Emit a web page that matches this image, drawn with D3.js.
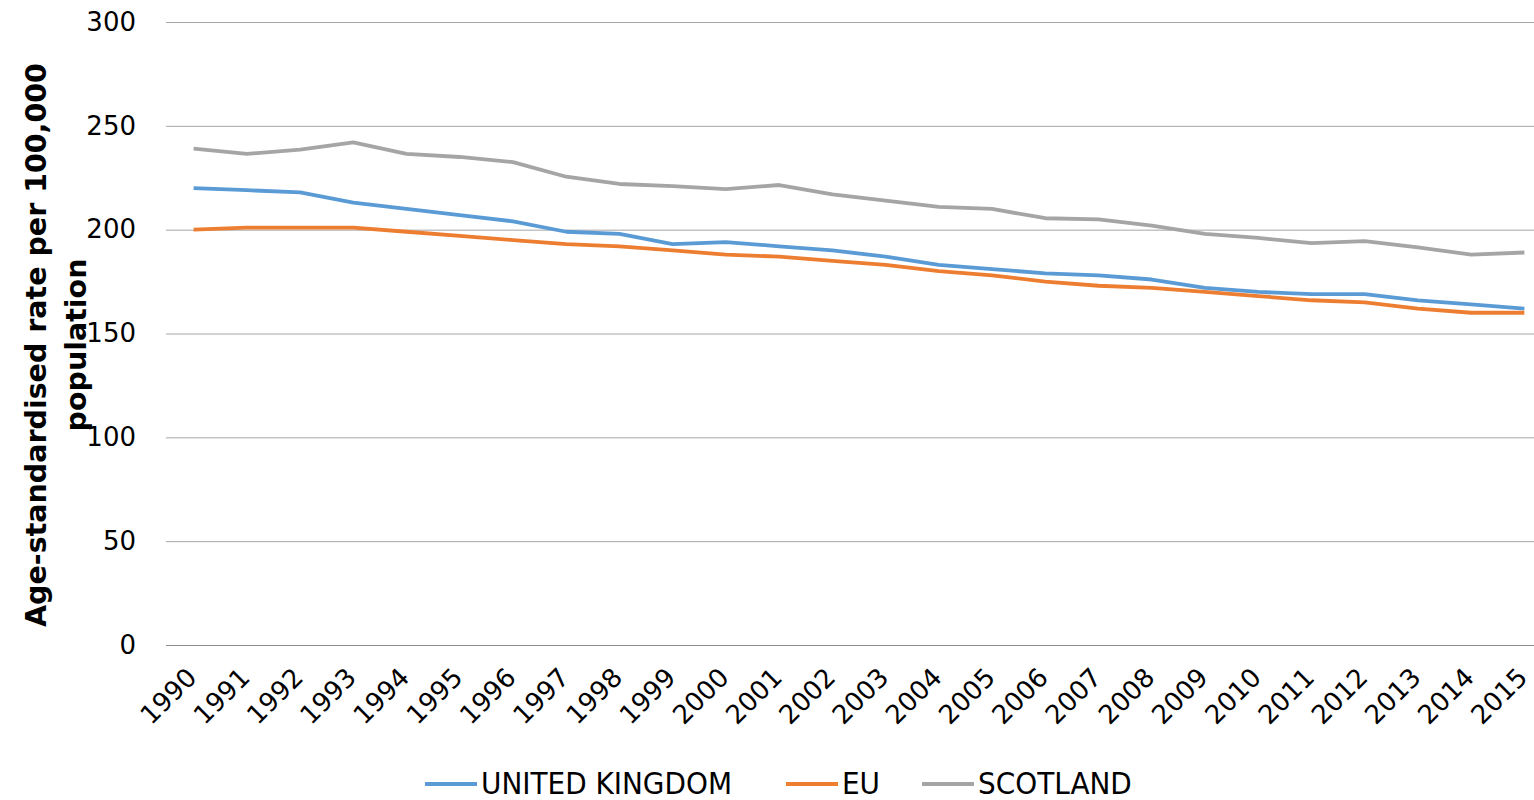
<!DOCTYPE html>
<html>
<head>
<meta charset="utf-8">
<script src="https://cdn.jsdelivr.net/npm/d3@7"></script>
<style>
  body { margin: 0; background: #fff; }
  svg { display: block; }
</style>
</head>
<body>
<div id="chart"></div>
<script>
// Data
const years = d3.range(1990, 2016).map(String);
const ukValues = [220, 219, 218, 213, 210, 207, 204, 199, 198, 193, 194, 192, 190, 187, 183, 181, 179, 178, 176, 172, 170, 169, 169, 166, 164, 162];
const euValues = [200, 201, 201, 201, 199, 197, 195, 193, 192, 190, 188, 187, 185, 183, 180, 178, 175, 173, 172, 170, 168, 166, 165, 162, 160, 160];
const scotlandValues = [239, 236.5, 238.5, 242, 236.5, 235, 232.5, 225.5, 222, 221, 219.5, 221.5, 217, 214, 211, 210, 205.5, 205, 202, 198, 196, 193.5, 194.5, 191.5, 188, 189];
const seriesNames = ['UNITED KINGDOM', 'EU', 'SCOTLAND'];
const seriesColors = ['#5B9BD5', '#ED7D31', '#A5A5A5'];
const yTicks = [0, 50, 100, 150, 200, 250, 300];

const config = { width: 1534, height: 800, left: 166, right: 1534, top: 22, bottom: 645 };

const series = [ukValues, euValues, scotlandValues].map((vals, i) => ({
  name: seriesNames[i],
  color: seriesColors[i],
  values: vals.map((v, j) => ({ year: years[j], value: v }))
}));

const svg = d3.select("#chart").append("svg")
  .attr("width", config.width)
  .attr("height", config.height);

// plot area runs slightly past the right edge of the picture
const x = d3.scalePoint()
  .domain(years)
  .range([167, 1551])
  .padding(0.5);

const y = d3.scaleLinear()
  .domain([0, 300])
  .range([config.bottom, config.top]);

// Gridlines
svg.append("g")
  .selectAll("line")
  .data(yTicks)
  .enter().append("line")
  .attr("x1", config.left)
  .attr("x2", config.right)
  .attr("y1", d => y(d) + 0.5)
  .attr("y2", d => y(d) + 0.5)
  .attr("stroke", d => d === 0 ? "#8c8c8c" : "#a6a6a6")
  .attr("stroke-width", 1);

// Y axis labels
const yAxis = svg.append("g")
  .attr("transform", `translate(${config.left}, 0)`)
  .call(d3.axisLeft(y).tickValues(yTicks).tickSize(0).tickPadding(30));
yAxis.select(".domain").remove();
yAxis.selectAll("text")
  .attr("font-family", "DejaVu Sans, Verdana, sans-serif")
  .attr("font-size", 26)
  .attr("fill", "#000");

// X axis labels
const xAxis = svg.append("g")
  .attr("transform", `translate(0, ${config.bottom})`)
  .call(d3.axisBottom(x).tickSize(0).tickPadding(0));
xAxis.select(".domain").remove();
xAxis.selectAll("text")
  .attr("font-family", "DejaVu Sans, Verdana, sans-serif")
  .attr("font-size", 26)
  .attr("fill", "#000")
  .attr("text-anchor", "end")
  .attr("dy", 0)
  .attr("y", 0)
  .attr("transform", "translate(4, 34) rotate(-45)");

// Y axis title
const title = svg.append("text")
  .attr("transform", "translate(55, 345) rotate(-90)")
  .attr("text-anchor", "middle")
  .attr("font-family", "DejaVu Sans, Verdana, sans-serif")
  .attr("font-weight", "bold")
  .attr("font-size", 28.5)
  .attr("fill", "#000");
title.append("tspan").attr("x", 0).attr("dy", "-0.3em").text("Age-standardised rate per 100,000");
title.append("tspan").attr("x", 0).attr("dy", "1.4em").text("population");

// Lines
const line = d3.line()
  .x(d => x(d.year))
  .y(d => y(d.value));

svg.append("g")
  .selectAll("path")
  .data(series)
  .enter().append("path")
  .attr("d", d => line(d.values))
  .attr("fill", "none")
  .attr("stroke", d => d.color)
  .attr("stroke-width", 3.8)
  .attr("stroke-linejoin", "round");

// Legend
const legendX = [425, 786, 922];
const legend = svg.append("g");
series.forEach((s, i) => {
  const g = legend.append("g").attr("transform", `translate(${legendX[i]}, 783)`);
  g.append("line")
    .attr("x1", 0).attr("x2", 52)
    .attr("y1", 1).attr("y2", 1)
    .attr("stroke", s.color)
    .attr("stroke-width", 3.8);
  g.append("text")
    .attr("x", 56)
    .attr("dy", "0.36em")
    .attr("font-family", "DejaVu Sans Condensed, DejaVu Sans, sans-serif")
    .attr("font-size", 31)
    .attr("fill", "#000")
    .text(s.name);
});
</script>
</body>
</html>
